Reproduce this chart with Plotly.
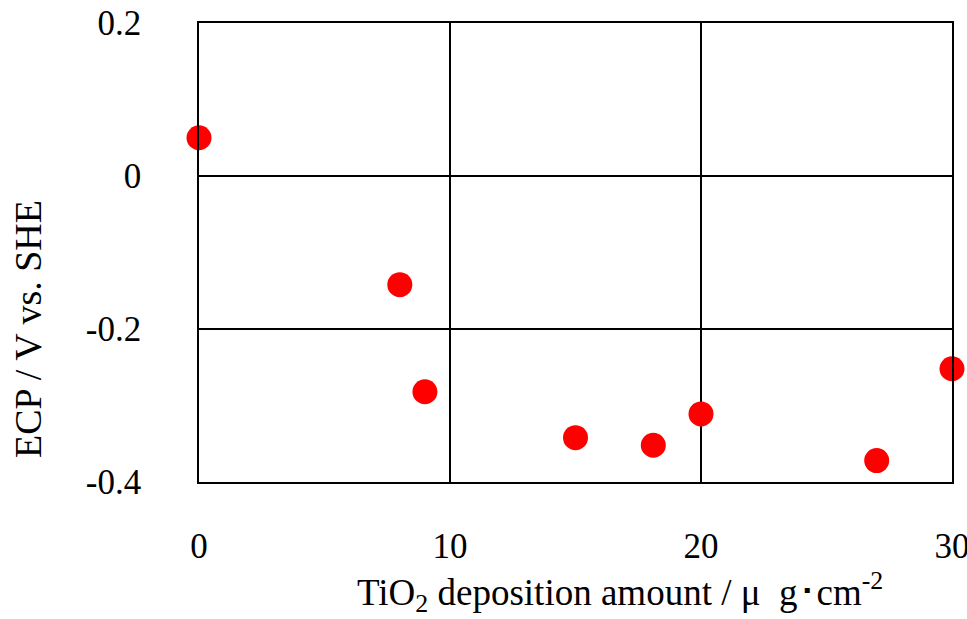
import plotly.graph_objects as go

x_vals = [0.0, 8.0, 9.0, 15.0, 18.1, 20.0, 27.0, 30.0]
y_vals = [0.05, -0.142, -0.282, -0.342, -0.352, -0.311, -0.372, -0.252]
x_ticks = [0, 10, 20, 30]
y_ticks = [-0.4, -0.2, 0, 0.2]
y_ticklabels = ["-0.4", "-0.2", "0", "0.2"]

FONT = "Liberation Serif"
L, R, T, B = 199, 15, 23, 137
W, H = 967, 619

fig = go.Figure()
fig.add_trace(go.Scatter(
    x=x_vals, y=y_vals, mode="markers",
    marker=dict(color="#ff0000", size=25, line=dict(width=0)),
    cliponaxis=False, showlegend=False,
))

fig.update_layout(
    width=W, height=H,
    margin=dict(l=L, r=R, t=T, b=B, autoexpand=False),
    paper_bgcolor="white", plot_bgcolor="white",
    font=dict(family=FONT, size=35, color="black"),
    xaxis=dict(
        range=[0, 30], tickvals=x_ticks, ticks="", showgrid=True,
        gridcolor="black", gridwidth=1.5, zeroline=False, automargin=False,
        showline=True, linecolor="black", linewidth=1.5, mirror=True,
        ticklabelstandoff=32, ticklabeloverflow="allow",
        tickfont=dict(family=FONT, size=35),
    ),
    yaxis=dict(
        range=[-0.4, 0.2], tickvals=y_ticks, ticktext=y_ticklabels, ticks="",
        showgrid=True, gridcolor="black", gridwidth=1.5, zeroline=False,
        automargin=False, ticklabeloverflow="allow",
        showline=True, linecolor="black", linewidth=1.5, mirror=True,
        ticklabelstandoff=49, tickfont=dict(family=FONT, size=35),
    ),
)

pw, ph = W - L - R, H - T - B

def to_paper(px, py):
    return (px - L) / pw, (H - B - py) / ph

ax, ay = to_paper(620, 592)
fig.add_annotation(
    text="TiO<sub>2</sub> deposition amount / μ\u00a0\u00a0g\uff65cm<sup>-2</sup>",
    x=ax, y=ay, xref="paper", yref="paper", xanchor="center", yanchor="middle",
    showarrow=False, font=dict(family=FONT, size=37))
bx, by = to_paper(28, 329)
fig.add_annotation(
    text="ECP / V vs. SHE", x=bx, y=by, xref="paper", yref="paper",
    xanchor="center", yanchor="middle", textangle=-90,
    showarrow=False, font=dict(family=FONT, size=38))

fig.write_html("out.html")
